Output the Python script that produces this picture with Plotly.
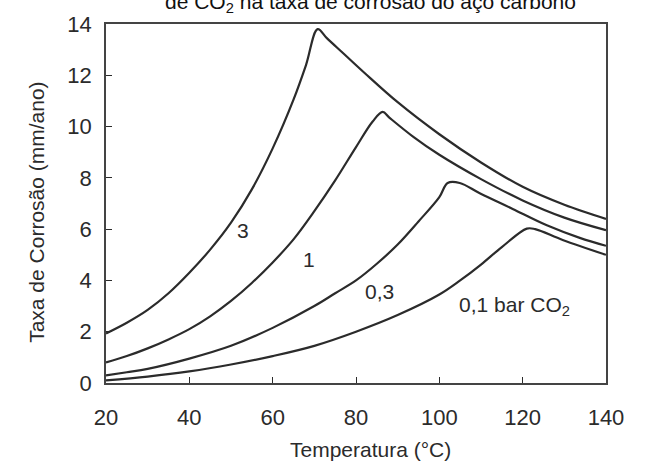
import plotly.graph_objects as go

# Temperature (°C) and corrosion rate (mm/ano)
temp_3bar = [20, 25, 30, 35, 40, 45, 50, 55, 60, 65, 68, 70.8, 73, 77, 82, 90, 100, 110, 120, 130, 140]
rate_3bar = [1.93, 2.35, 2.85, 3.5, 4.3, 5.2, 6.25, 7.55, 9.15, 11.05, 12.4, 13.8, 13.45, 12.85, 12.1, 10.95, 9.7, 8.6, 7.65, 6.95, 6.4]

temp_1bar = [20, 25, 30, 35, 40, 45, 50, 55, 60, 65, 70, 75, 80, 84, 86.4, 88, 93.6, 100, 110, 120, 130, 140]
rate_1bar = [0.8, 1.05, 1.35, 1.7, 2.1, 2.6, 3.2, 3.9, 4.7, 5.6, 6.7, 7.9, 9.2, 10.2, 10.57, 10.35, 9.62, 8.9, 7.95, 7.12, 6.45, 5.96]

temp_03bar = [20, 25, 30, 40, 50, 60, 70, 75, 80, 85, 90, 95, 100, 102, 104.9, 109.7, 117.6, 125.8, 133.7, 140]
rate_03bar = [0.3, 0.42, 0.55, 0.95, 1.45, 2.15, 3.0, 3.5, 4.0, 4.65, 5.4, 6.3, 7.25, 7.8, 7.8, 7.4, 6.79, 6.15, 5.66, 5.35]

temp_01bar = [20, 30, 40, 50, 60, 70, 80, 90, 100, 105, 110, 115, 121, 123, 129.6, 140]
rate_01bar = [0.1, 0.25, 0.45, 0.72, 1.05, 1.45, 2.0, 2.65, 3.45, 4.0, 4.62, 5.3, 6.02, 6.0, 5.58, 5.0]

series = [
    ("3 bar", temp_3bar, rate_3bar),
    ("1 bar", temp_1bar, rate_1bar),
    ("0,3 bar", temp_03bar, rate_03bar),
    ("0,1 bar", temp_01bar, rate_01bar),
]

# curve labels: text, x, y
label_text = ["3", "1", "0,3", "0,1 bar CO<sub>2</sub>"]
label_x = [52.9, 68.7, 85.7, 118]
label_y = [5.96, 4.8, 3.55, 3.0]

x_ticks = [20, 40, 60, 80, 100, 120, 140]
y_ticks = [0, 2, 4, 6, 8, 10, 12, 14]

FONT = "Liberation Sans, Arial, sans-serif"
INK = "#2b2b2b"

fig = go.Figure()
for name, xs, ys in series:
    fig.add_trace(go.Scatter(
        x=xs, y=ys, mode="lines", name=name,
        line=dict(color=INK, width=2.2, shape="spline", smoothing=1.0),
        showlegend=False, hoverinfo="x+y",
    ))

for t, x, y in zip(label_text, label_x, label_y):
    fig.add_annotation(x=x, y=y, xref="x", yref="y", text=t, showarrow=False,
                       font=dict(family=FONT, size=21, color=INK))

# partially visible title (cut at the top of the picture)
fig.add_annotation(x=0.528, y=1.058, xref="paper", yref="paper",
                   text="de CO<sub>2</sub> na taxa de corrosão do aço carbono",
                   showarrow=False, xanchor="center", yanchor="middle",
                   font=dict(family=FONT, size=21, color="#111"))
# axis titles
fig.add_annotation(x=0.528, y=-0.185, xref="paper", yref="paper",
                   text="Temperatura (°C)", showarrow=False,
                   xanchor="center", yanchor="middle",
                   font=dict(family=FONT, size=21, color=INK))
fig.add_annotation(x=-0.138, y=0.474, xref="paper", yref="paper",
                   text="Taxa de Corrosão (mm/ano)", showarrow=False, textangle=-90,
                   xanchor="center", yanchor="middle",
                   font=dict(family=FONT, size=21, color=INK))

fig.update_xaxes(range=[20, 140], tickvals=x_ticks, ticks="inside", ticklen=6,
                 tickcolor=INK, showline=True, linecolor="#444", linewidth=1.5,
                 mirror=True, showgrid=False, zeroline=False,
                 ticklabelstandoff=14,
                 tickfont=dict(family=FONT, size=22, color=INK))
fig.update_yaxes(range=[0, 14], tickvals=y_ticks, ticks="inside", ticklen=6,
                 tickcolor=INK, showline=True, linecolor="#444", linewidth=1.5,
                 mirror=True, showgrid=False, zeroline=False,
                 ticklabelstandoff=8,
                 tickfont=dict(family=FONT, size=22, color=INK))

fig.update_layout(
    width=646, height=464,
    margin=dict(l=106, r=40, t=12, b=81),
    plot_bgcolor="white", paper_bgcolor="white",
)

fig.write_html("out.html")
